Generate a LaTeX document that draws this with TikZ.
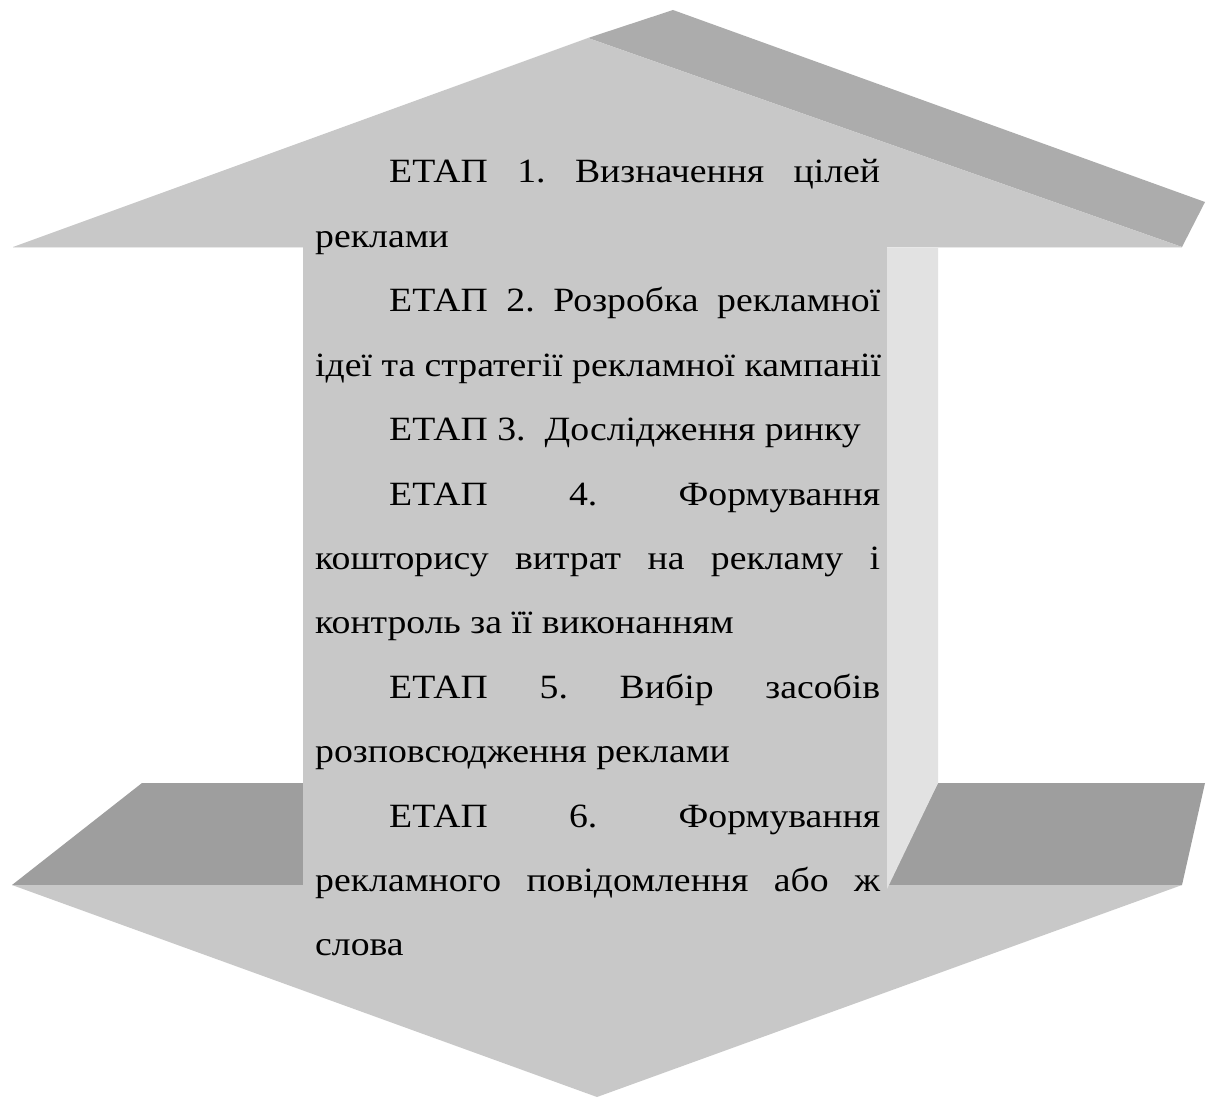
\documentclass[tikz,border=0pt]{standalone}
\usepackage{fontspec}
\setmainfont{Liberation Serif}
\newfontfamily\stf[FakeStretch=1.11]{Liberation Serif}
\definecolor{face}{RGB}{200,200,200}
\definecolor{topband}{RGB}{172,172,172}
\definecolor{botband}{RGB}{158,158,158}
\definecolor{sideface}{RGB}{226,226,226}
\definecolor{edgeline}{RGB}{232,232,232}
\begin{document}
\frenchspacing
\begin{tikzpicture}[x=1pt,y=-1pt,line join=round,
  txt/.style={font=\stf\fontsize{34}{34}\selectfont,inner sep=0pt,text=black,anchor=base west}]
\useasboundingbox (0,0) rectangle (1209,1099);
% bottom arrow: dark (top) band
\fill[botband] (142,783) -- (303,783) -- (303,885) -- (12,885) -- cycle;
\fill[botband] (938,783) -- (1205,783) -- (1182,885) -- (887,885) -- cycle;
% bottom arrow: front face
\fill[face] (12,885) -- (1182,885) -- (597,1097) -- cycle;
% shaft side face
\fill[sideface] (887,247) -- (938,247) -- (938,783) -- (887,889) -- cycle;
% shaft front face
\fill[face] (303,246) rectangle (887,886);
% top arrow: dark band
\fill[topband] (588,38) -- (673,10) -- (1205,202) -- (1182,247) -- cycle;
% top arrow: front face
\fill[face] (13,247) -- (588,38) -- (1182,247) -- cycle;
\draw[edgeline,line width=1.2pt] (13,247.5) -- (303,247.5);
\draw[edgeline,line width=1.2pt] (887,247.5) -- (1182,247.5);
% text
\node[txt] (l1) at (389,183) {\makebox[491pt][s]{ЕТАП 1. Визначення цілей}};
\node[txt] (l2) at (315,247.4) {реклами};
\node[txt] (l3) at (389,311.8) {\makebox[491pt][s]{ЕТАП 2. Розробка рекламної}};
\node[txt] (l4) at (315,376.2) {ідеї та стратегії рекламної кампанії};
\node[txt] (l5) at (389,440.6) {ЕТАП 3.\ \ Дослідження ринку};
\node[txt] (l6) at (389,505) {\makebox[491pt][s]{ЕТАП 4. Формування}};
\node[txt] (l7) at (315,569.4) {\makebox[565pt][s]{кошторису витрат на рекламу і}};
\node[txt] (l8) at (315,633.8) {контроль за її виконанням};
\node[txt] (l9) at (389,698.2) {\makebox[491pt][s]{ЕТАП 5. Вибір засобів}};
\node[txt] (l10) at (315,762.6) {розповсюдження реклами};
\node[txt] (l11) at (389,827) {\makebox[491pt][s]{ЕТАП 6. Формування}};
\node[txt] (l12) at (315,891.4) {\makebox[565pt][s]{рекламного повідомлення або ж}};
\node[txt] (l13) at (315,955.8) {слова};
\end{tikzpicture}
\end{document}
